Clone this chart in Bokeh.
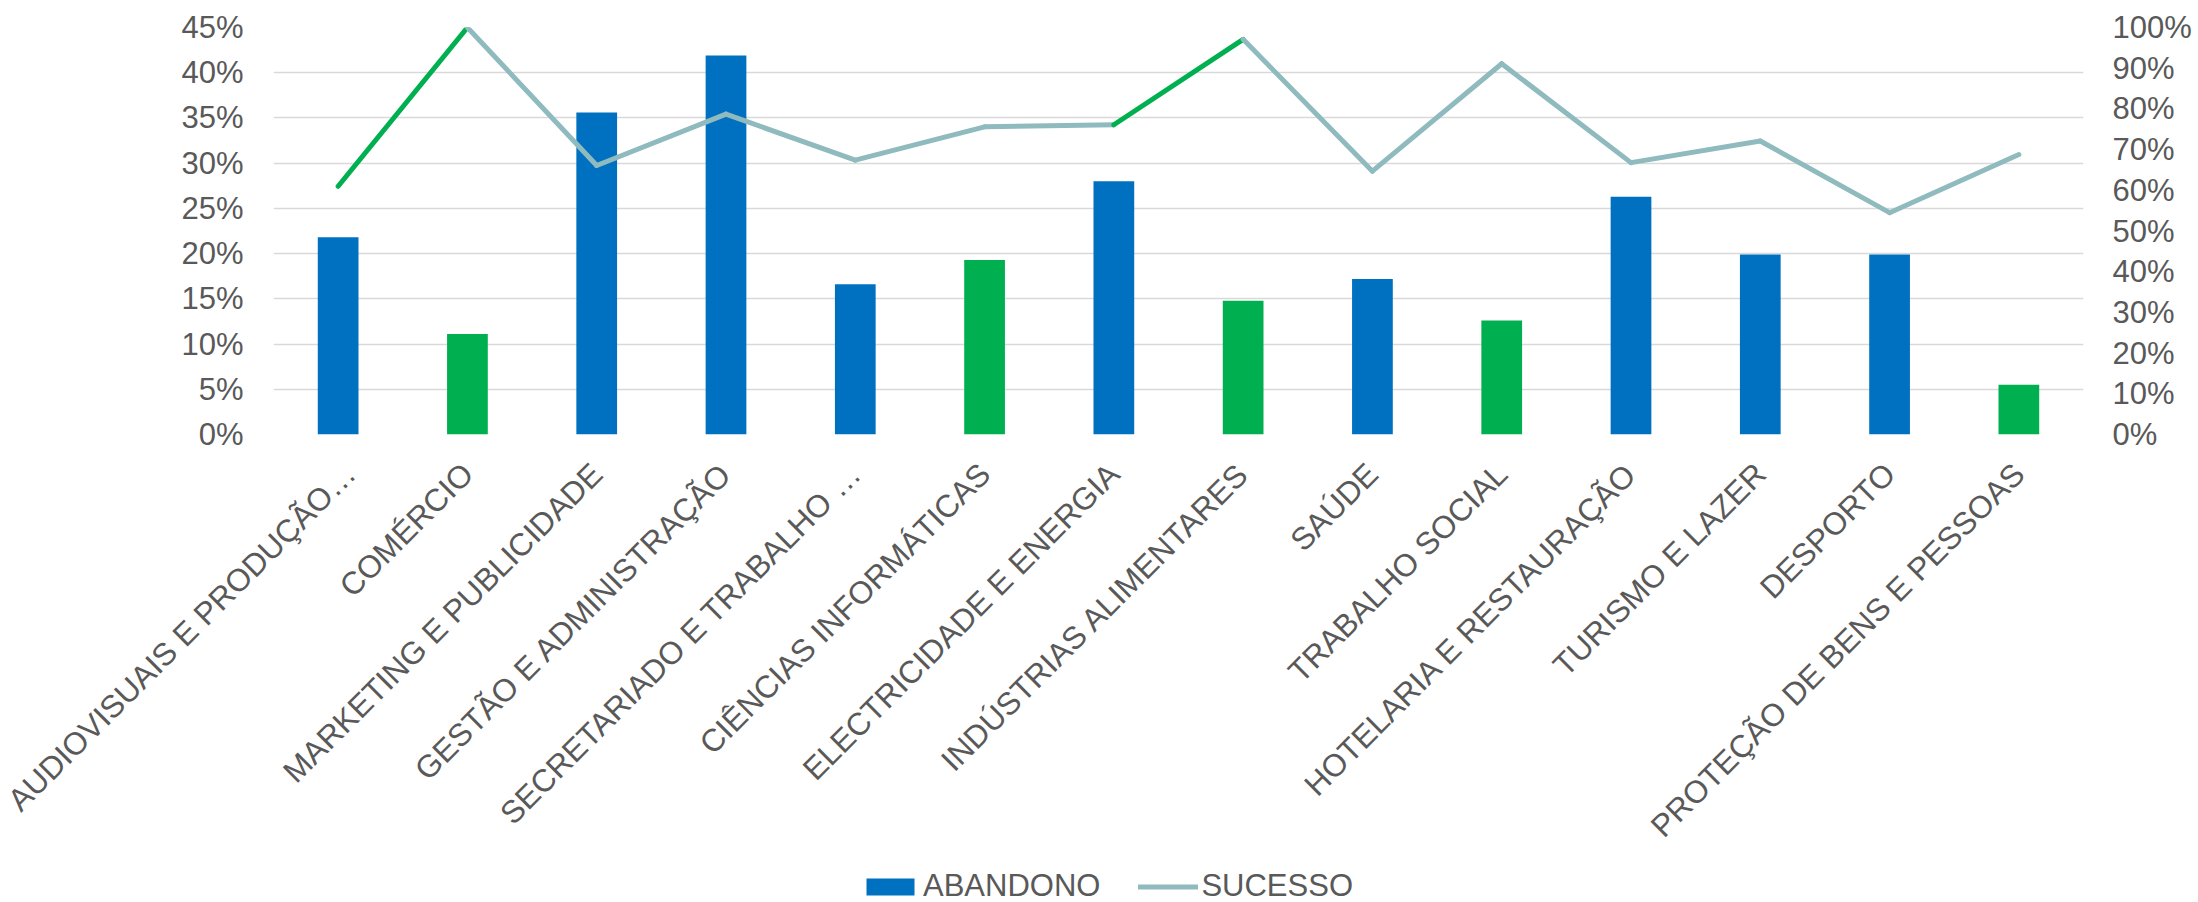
from math import pi
from bokeh.plotting import figure
from bokeh.layouts import column
from bokeh.models import (FactorRange, Range1d, LinearAxis, FixedTicker,
                          NumeralTickFormatter, Legend, LegendItem, ColumnDataSource)
from bokeh.embed import file_html
from bokeh.resources import INLINE

# ---------------- data ----------------
categories = [
    "AUDIOVISUAIS E PRODUÇÃO…", "COMÉRCIO", "MARKETING E PUBLICIDADE",
    "GESTÃO E ADMINISTRAÇÃO", "SECRETARIADO E TRABALHO …", "CIÊNCIAS INFORMÁTICAS",
    "ELECTRICIDADE E ENERGIA", "INDÚSTRIAS ALIMENTARES", "SAÚDE", "TRABALHO SOCIAL",
    "HOTELARIA E RESTAURAÇÃO", "TURISMO E LAZER", "DESPORTO", "PROTEÇÃO DE BENS E PESSOAS",
]
abandono = [0.218, 0.111, 0.356, 0.419, 0.166, 0.193, 0.280,
            0.148, 0.172, 0.126, 0.263, 0.199, 0.199, 0.055]
sucesso = [0.610, 1.000, 0.661, 0.787, 0.674, 0.756, 0.761,
           0.971, 0.647, 0.911, 0.668, 0.721, 0.545, 0.688]
left_ticks = [0.0, 0.05, 0.10, 0.15, 0.20, 0.25, 0.30, 0.35, 0.40, 0.45]
right_ticks = [0.0, 0.1, 0.2, 0.3, 0.4, 0.5, 0.6, 0.7, 0.8, 0.9, 1.0]
series_names = ["ABANDONO", "SUCESSO"]

# ---------------- styles ----------------
BLUE = "#0070C0"
GREEN = "#00B050"
TEAL = "#8FBBBF"
TXT = "#595959"
FONT = "Liberation Sans"
bar_colors = [BLUE, GREEN, BLUE, BLUE, BLUE, GREEN, BLUE,
              GREEN, BLUE, GREEN, BLUE, BLUE, BLUE, GREEN]
point_colors = [GREEN, GREEN, TEAL, TEAL, TEAL, TEAL, TEAL,
                GREEN, TEAL, TEAL, TEAL, TEAL, TEAL, TEAL]

W = 2198
H_MAIN, H_LEG = 866, 36
p = figure(width=W, height=H_MAIN, x_range=FactorRange(*categories, range_padding=0),
           y_range=Range1d(0, 0.45), output_backend="svg", toolbar_location=None,
           min_border_left=273, min_border_right=115, min_border_top=27,
           min_border_bottom=H_MAIN - 434)
p.extra_y_ranges = {"right": Range1d(0, 1.0)}
p.outline_line_color = None
p.background_fill_color = "white"
p.border_fill_color = "white"

bar_src = ColumnDataSource(dict(x=categories, top=abandono, color=bar_colors))
bars = p.vbar(x="x", top="top", width=0.315, source=bar_src,
              fill_color="color", line_color=None)

seg_src = ColumnDataSource(dict(x0=categories[:-1], y0=sucesso[:-1],
                                x1=categories[1:], y1=sucesso[1:],
                                color=point_colors[1:]))
segs = p.segment(x0="x0", y0="y0", x1="x1", y1="y1", source=seg_src,
                 line_color="color", line_width=5, line_cap="round",
                 y_range_name="right")

# axes
yl = p.yaxis[0]
yl.ticker = FixedTicker(ticks=left_ticks)
yl.formatter = NumeralTickFormatter(format="0%")
yr = LinearAxis(y_range_name="right", ticker=FixedTicker(ticks=right_ticks),
                formatter=NumeralTickFormatter(format="0%"))
p.add_layout(yr, "right")
for ax in (yl, yr, p.xaxis[0]):
    ax.axis_line_color = None
    ax.major_tick_line_color = None
    ax.minor_tick_line_color = None
    ax.major_tick_out = 0
    ax.major_tick_in = 0
    ax.major_label_text_font = FONT
    ax.major_label_text_font_size = "31px"
    ax.major_label_text_color = TXT
yl.major_label_standoff = 30
yr.major_label_standoff = 29
xa = p.xaxis[0]
xa.major_label_text_font_size = "31.5px"
xa.major_label_orientation = pi / 4
xa.major_label_standoff = 34

p.xgrid.grid_line_color = None
p.ygrid.grid_line_color = "#D9D9D9"
p.ygrid.grid_line_width = 1.6

# ---------------- legend strip ----------------
# proxy renderers share the chart's sources; the strip's y range lies above the
# data, so only their legend glyphs are drawn
lf = figure(width=W, height=H_LEG, x_range=p.x_range, y_range=Range1d(5, 6),
            x_axis_type=None, y_axis_type=None, output_backend="svg",
            toolbar_location=None, min_border=0)
lf.outline_line_color = None
lf.grid.grid_line_color = None
lf.border_fill_color = "white"
lf.background_fill_color = "white"
leg_bar = lf.vbar(x="x", top="top", width=0.315, source=bar_src,
                  fill_color="color", line_color=None)
leg_line = lf.segment(x0="x0", y0="y0", x1="x1", y1="y1", source=seg_src,
                      line_color="color", line_width=5, line_cap="round")
legend = Legend(items=[LegendItem(label=series_names[0], renderers=[leg_bar], index=0),
                       LegendItem(label=series_names[1], renderers=[leg_line], index=1)],
                orientation="horizontal", location=(587, -2),
                glyph_width=60, glyph_height=21, label_standoff=3, spacing=38,
                padding=0, margin=0, border_line_color=None,
                background_fill_alpha=0, label_text_font=FONT,
                label_text_font_size="31px", label_text_color=TXT)
lf.add_layout(legend, "center")

layout = column(p, lf, spacing=0)
open("out.html", "w").write(file_html(layout, INLINE))
